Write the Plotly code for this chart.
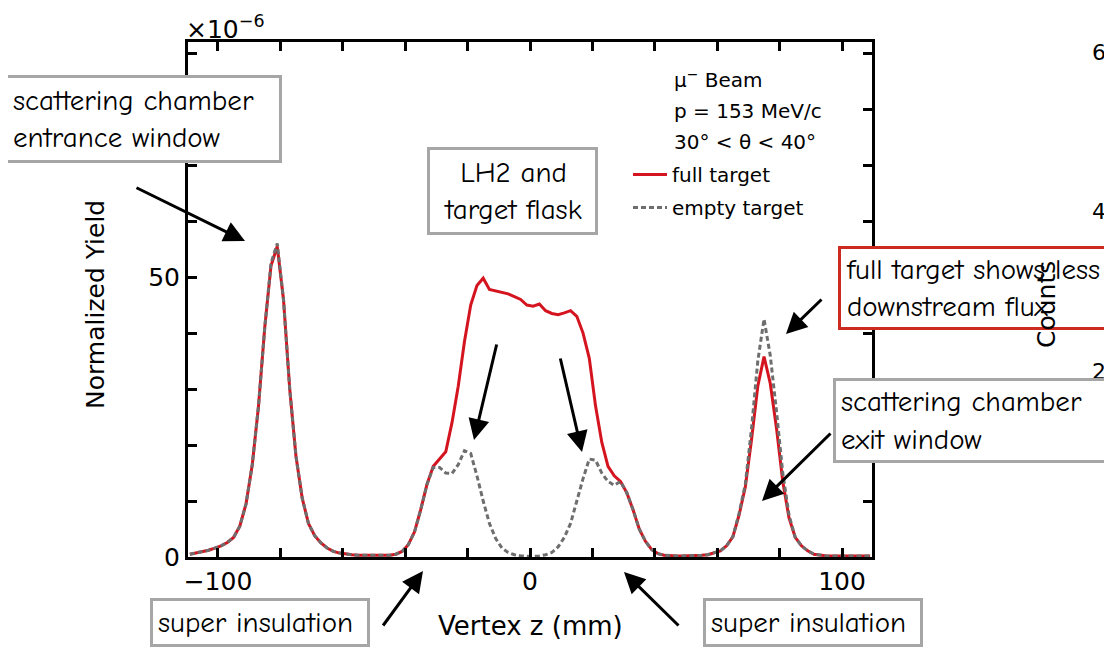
import plotly.graph_objects as go

# ---------------- data ----------------
z_centers = list(range(-109, 110, 2))  # 2 mm bin centres (mm)

full_target = [
    0.5, 0.7, 0.9, 1.2, 1.6, 2.0, 2.6, 3.5, 5.5, 9.5,
    16.5, 27, 41, 52, 55.5, 46, 30, 18, 10.5, 6,
    3.8, 2.5, 1.6, 1.0, 0.7, 0.5, 0.4, 0.3, 0.3, 0.2,
    0.2, 0.2, 0.3, 0.5, 1.0, 2.2, 4.5, 8.5, 13, 16.2,
    17.6, 18.8, 24, 30.5, 38.5, 45, 48.5, 49.8, 47.8, 47.5,
    47.2, 47, 46.5, 46, 45, 44.8, 45.2, 44, 43.5, 43.3,
    43.6, 44, 43, 40, 35.5, 27, 20.5, 16.2, 14.5, 13.5,
    11.5, 8.5, 5, 2.8, 1.3, 0.6, 0.3, 0.2, 0.2, 0.2,
    0.2, 0.2, 0.3, 0.4, 0.7, 1.1, 2, 3.6, 7.5, 12.5,
    21, 30.5, 35.8, 31, 23, 13.5, 7, 3.5, 2, 1.1,
    0.5, 0.3, 0.2, 0.2, 0.2, 0.2, 0.2, 0.2, 0.2, 0.2,
]

empty_target = [
    0.5, 0.7, 0.9, 1.2, 1.6, 2.0, 2.6, 3.5, 5.5, 9.5,
    16.5, 27, 41, 52.5, 56, 46, 30, 18, 10.5, 6,
    3.8, 2.5, 1.6, 1.0, 0.7, 0.5, 0.4, 0.3, 0.3, 0.2,
    0.2, 0.2, 0.3, 0.5, 1.0, 2.2, 4.5, 8.5, 13, 16.0,
    16.0, 15.0, 14.9, 16.5, 19.0, 18.5, 14.5, 10.0, 6.0, 3.3,
    1.6, 0.8, 0.4, 0.2, 0.1, 0.1, 0.2, 0.4, 0.8, 1.8,
    3.5, 6.0, 10.0, 14.0, 17.5, 17.3, 15.0, 13.5, 12.8, 13.5,
    11.5, 8.5, 5, 2.8, 1.3, 0.6, 0.3, 0.2, 0.2, 0.2,
    0.2, 0.2, 0.3, 0.4, 0.7, 1.1, 2, 3.6, 7.8, 13,
    23, 35, 42.5, 36, 26, 15, 7.5, 3.5, 2, 1.1,
    0.5, 0.3, 0.2, 0.2, 0.2, 0.2, 0.2, 0.2, 0.2, 0.2,
]

x_tickvals = [-100, -80, -60, -40, -20, 0, 20, 40, 60, 80, 100]
x_ticktext = ["\u2212100", "", "", "", "", "0", "", "", "", "", "100"]
y_tickvals = [0, 10, 20, 30, 40, 50, 60, 70, 80, 90]
y_ticktext = ["0", "", "", "", "", "50", "", "", "", ""]

info_lines = ["\u03bc<sup>\u2212</sup> Beam", "p = 153 MeV/c", "30\u00b0 < \u03b8 < 40\u00b0"]

# ---------------- layout helpers ----------------
OFF = 8                      # page body margin of the html page
W, H = 1112 - OFF, 649 - OFF
L, R, T, B = 188, 872, 42, 557   # plot area in screen pixels


def px(x):
    return (x - L) / (R - L)


def py(y):
    return (B - y) / (B - T)


RED = "#d4141f"
GRAY = "#6e6e6e"
BOXGRAY = "#a6a6a6"
HAND = "Comic Sans MS, Comic Neue, Lato, sans-serif"
HELV = "DejaVu Sans, Liberation Sans, Arial, sans-serif"

fig = go.Figure()
fig.add_trace(go.Scatter(
    x=z_centers, y=full_target, mode="lines", name="full target",
    line=dict(color=RED, width=3, shape="linear"), legendgroup="a",
))
fig.add_trace(go.Scatter(
    x=z_centers, y=empty_target, mode="lines", name="empty target",
    line=dict(color=GRAY, width=3, shape="linear", dash="5px,3px"), legendgroup="b",
))

axis_common = dict(
    showline=True, linecolor="black", linewidth=3, mirror="ticks",
    ticks="inside", ticklen=9, tickwidth=2.5, tickcolor="black",
    showgrid=False, zeroline=False,
    tickfont=dict(family=HELV, size=25, color="black"),
)

fig.update_layout(
    width=W, height=H,
    margin=dict(l=L - OFF, r=W - (R - OFF), t=T - OFF, b=H - (B - OFF)),
    paper_bgcolor="white", plot_bgcolor="white",
    xaxis=dict(range=[-109.6, 109.6], tickmode="array", tickvals=x_tickvals,
               ticktext=x_ticktext, **axis_common),
    yaxis=dict(range=[0, 92], tickmode="array", tickvals=y_tickvals,
               ticktext=y_ticktext, **axis_common),
    showlegend=True,
    legend=dict(x=px(628), y=py(155), xanchor="left", yanchor="top",
                bgcolor="rgba(0,0,0,0)", borderwidth=0,
                font=dict(family=HELV, size=20, color="black"),
                traceorder="grouped", tracegroupgap=4, itemwidth=34),
)

ann = []

# fragments of the neighbouring figure visible at the right edge (behind boxes)
for t, yy in [("6", 52), ("4", 212), ("2", 372)]:
    ann.append(dict(x=px(1090), y=py(yy), xref="paper", yref="paper",
                    xanchor="left", yanchor="middle",
                    text=t, showarrow=False, font=dict(family=HELV, size=22, color="black")))

# axis titles and exponent
ann.append(dict(x=px(530), y=py(626), xref="paper", yref="paper", text="Vertex z (mm)",
                xanchor="center", yanchor="middle",
                showarrow=False, font=dict(family=HELV, size=26, color="black")))
ann.append(dict(x=px(95), y=py(305), xref="paper", yref="paper", text="Normalized Yield",
                xanchor="center", yanchor="middle",
                showarrow=False, textangle=-90, font=dict(family=HELV, size=25, color="black")))
ann.append(dict(x=px(184), y=py(46), xref="paper", yref="paper", xanchor="left", yanchor="bottom",
                text="\u00d710<sup>\u22126</sup>", showarrow=False,
                font=dict(family=HELV, size=25, color="black")))

# info text lines
for i, t in enumerate(info_lines):
    ann.append(dict(x=px(672), y=py(79 + 31.5 * i), xref="paper", yref="paper",
                    xanchor="left", yanchor="middle", text=t, showarrow=False,
                    font=dict(family=HELV, size=20, color="black")))

PAD = 5


def box(text, x0, y0, x1, y1, border=BOXGRAY, align="left", size=29):
    return dict(x=px(x0), y=py(y0), xref="paper", yref="paper",
                xanchor="left", yanchor="top", text=text, showarrow=False,
                align=align, valign="middle",
                width=x1 - x0 - 6 - 2 * PAD, height=y1 - y0 - 6 - 2 * PAD,
                bgcolor="white", bordercolor=border, borderwidth=3, borderpad=PAD,
                font=dict(family=HAND, size=size, color="black"))


ann.append(box("scattering chamber<br>entrance window", 5, 75, 282, 163))
ann.append(box("LH2 and<br>target flask", 427, 147, 598, 235, align="center"))
ann.append(box("full target shows less<br>downstream flux", 838, 246, 1200, 330, border="#cc2b22"))
ann.append(box("scattering chamber<br>exit window", 833, 378, 1108, 463))
ann.append(box("super insulation", 150, 598, 370, 647))
ann.append(box("super insulation", 703, 598, 923, 647))


def arrow(x0, y0, x1, y1):
    return dict(x=px(x1), y=py(y1), xref="paper", yref="paper",
                ax=x0 - x1, ay=y0 - y1, axref="pixel", ayref="pixel",
                text="", showarrow=True, arrowhead=2, arrowsize=1.4,
                arrowwidth=3, arrowcolor="black")


ann += [
    arrow(135, 187, 245, 241),
    arrow(497, 343, 474, 440),
    arrow(560, 357, 582, 452),
    arrow(823, 298, 786, 334),
    arrow(832, 432, 762, 501),
    arrow(382, 627, 423, 571),
    arrow(680, 627, 624, 572),
]

# rotated axis title of the neighbouring figure, drawn over the red box
ann.append(dict(x=px(1046), y=py(305), xref="paper", yref="paper", text="Counts",
                xanchor="center", yanchor="middle",
                textangle=-90, showarrow=False, font=dict(family=HELV, size=25, color="black")))

fig.update_layout(annotations=ann)

fig.write_html("out.html")
